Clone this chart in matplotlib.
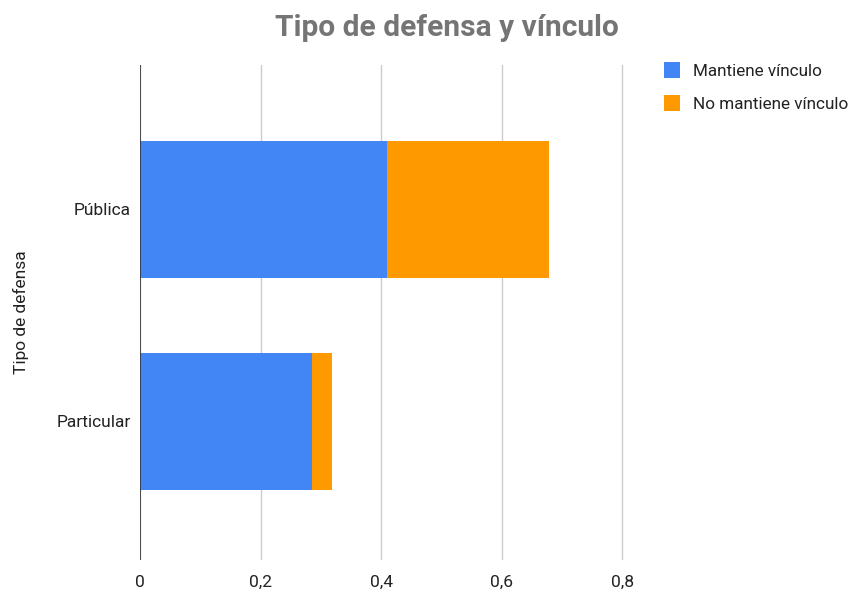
import numpy as np
import matplotlib.pyplot as plt

plt.rcParams['font.family'] = ['Roboto', 'DejaVu Sans']

categorias = ["Pública", "Particular"]
mantiene = [0.409, 0.2855]
no_mantiene = [0.270, 0.0335]
ticks = [0, 0.2, 0.4, 0.6, 0.8]
tick_labels = ["0", "0,2", "0,4", "0,6", "0,8"]

azul = "#4285f4"
naranja = "#ff9900"

fig = plt.figure(figsize=(8.56, 5.95), dpi=100)
ax = fig.add_axes([0.1636, 0.0588, 0.5660, 0.8320])

y = np.arange(len(categorias))
b1 = ax.barh(y, mantiene, height=0.646, color=azul, label="Mantiene vínculo", zorder=3)
b2 = ax.barh(y, no_mantiene, left=mantiene, height=0.646, color=naranja,
             label="No mantiene vínculo", zorder=3)

ax.set_ylim(1.655, -0.68)
ax.set_xlim(0, 0.804)
ax.set_yticks(y)
ax.set_yticklabels(categorias, fontsize=12.5, color="#222222")
ax.set_xticks(ticks)
ax.set_xticklabels(tick_labels, fontsize=12.5, color="#222222")
ax.tick_params(length=0)
ax.tick_params(axis='x', pad=11)
ax.tick_params(axis='y', pad=6.5)
ax.grid(axis='x', color="#cccccc", linewidth=1, zorder=0)
for s in ax.spines.values():
    s.set_visible(False)
ax.axvline(0, color="#333333", linewidth=1.2, zorder=4)
ax.set_ylabel("Tipo de defensa", fontsize=12.5, color="#222222", labelpad=20)

fig.text(0.522, 0.953, "Tipo de defensa y vínculo", ha='center', va='center',
         fontsize=21.5, fontweight='bold', color="#757575")

fig.legend(handles=[b1, b2], loc='upper left', bbox_to_anchor=(0.758, 0.922),
           frameon=False, fontsize=12.3, handlelength=0.95, handleheight=1.05,
           handletextpad=0.75, labelspacing=0.95, labelcolor="#222222")

fig.savefig("out.png", dpi=100)
